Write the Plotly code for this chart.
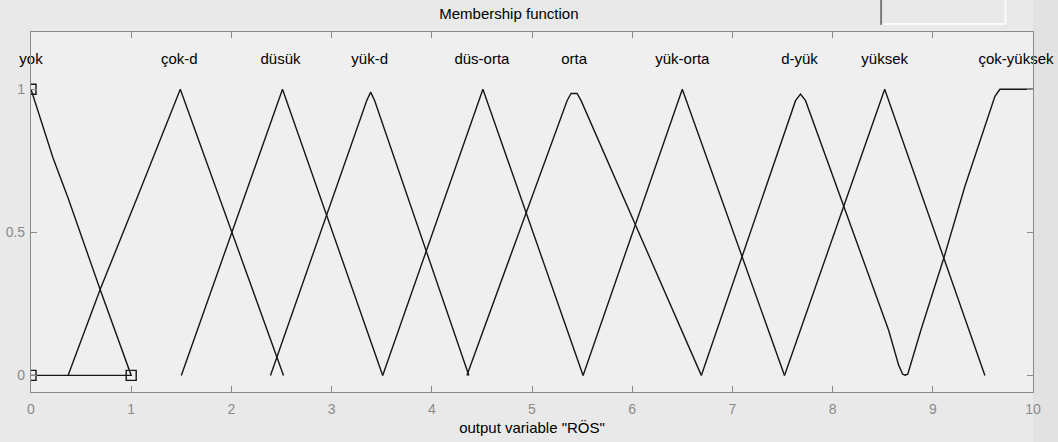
import plotly.graph_objects as go

# Output variable "RÖS": membership function vertices (x, membership)
mf_names = ["yok", "çok-d", "düsük", "yük-d", "düs-orta", "orta",
            "yük-orta", "d-yük", "yüksek", "çok-yüksek"]

yok_x = [0.0, 0.22, 0.37, 0.69, 1.0, 0.0]
yok_y = [1.0, 0.76, 0.62, 0.30, 0.0, 0.0]

cokd_x = [0.37, 0.69, 1.09, 1.49, 2.52]
cokd_y = [0.0, 0.30, 0.648, 1.0, 0.0]

dusuk_x = [1.50, 2.51, 3.51]
dusuk_y = [0.0, 1.0, 0.0]

yukd_x = [2.39, 3.35, 3.39, 3.43, 4.37]
yukd_y = [0.0, 0.96, 0.99, 0.96, 0.0]

dusorta_x = [3.51, 4.51, 5.51]
dusorta_y = [0.0, 1.0, 0.0]

orta_x = [4.35, 5.35, 5.39, 5.45, 5.49, 6.69]
orta_y = [0.0, 0.96, 0.985, 0.985, 0.96, 0.0]

yukorta_x = [5.51, 6.50, 7.52]
yukorta_y = [0.0, 1.0, 0.0]

dyuk_x = [6.69, 7.63, 7.68, 7.73, 8.56, 8.66, 8.70, 8.73]
dyuk_y = [0.0, 0.96, 0.983, 0.96, 0.157, 0.035, 0.004, 0.0]

yuksek_x = [7.52, 8.52, 9.52]
yuksek_y = [0.0, 1.0, 0.0]

cokyuksek_x = [8.72, 8.75, 8.88, 9.11, 9.32, 9.62, 9.67, 10.0]
cokyuksek_y = [0.0, 0.004, 0.157, 0.41, 0.66, 0.975, 1.0, 1.0]

# label anchor positions (centre of each function's top)
label_x = [0.0, 1.48, 2.49, 3.38, 4.50, 5.42, 6.50, 7.67, 8.52, 9.83]
label_y = 1.1

# handles of the selected function "yok"
handle_x = [0.0, 0.0, 1.0]
handle_y = [1.0, 0.0, 0.0]

x_ticks = [0, 1, 2, 3, 4, 5, 6, 7, 8, 9, 10]
y_ticks = [0, 0.5, 1]
y_tick_text = ["0", "0.5", "1"]

curves = [(yok_x, yok_y), (cokd_x, cokd_y), (dusuk_x, dusuk_y),
          (yukd_x, yukd_y), (dusorta_x, dusorta_y), (orta_x, orta_y),
          (yukorta_x, yukorta_y), (dyuk_x, dyuk_y), (yuksek_x, yuksek_y),
          (cokyuksek_x, cokyuksek_y)]

FONT = "Liberation Sans, Arial, sans-serif"
LINE = "#161616"

fig = go.Figure()

for name, (xs, ys) in zip(mf_names, curves):
    fig.add_trace(go.Scatter(x=xs, y=ys, mode="lines", name=name,
                             line=dict(color=LINE, width=1.4),
                             hoverinfo="skip", showlegend=False))

fig.add_trace(go.Scatter(x=handle_x, y=handle_y, mode="markers",
                         marker=dict(symbol="square-open", size=10,
                                     color=LINE, line=dict(width=1.4)),
                         cliponaxis=True, hoverinfo="skip", showlegend=False))

fig.add_trace(go.Scatter(x=label_x, y=[label_y] * len(label_x), mode="text",
                         text=mf_names, textposition="middle center",
                         textfont=dict(family=FONT, size=15, color="#000000"),
                         cliponaxis=False, hoverinfo="skip", showlegend=False))

axis_common = dict(showgrid=False, zeroline=False, showline=True,
                   linecolor="#8a8a8a", linewidth=1.2, mirror="ticks",
                   ticks="inside", ticklen=6, tickcolor="#8a8a8a",
                   automargin=False,
                   tickfont=dict(family=FONT, size=14, color="#8a8a8a"))

fig.update_xaxes(range=[0, 10], tickvals=x_ticks, ticklabelstandoff=4,
                 title=dict(text='output variable "RÖS"', standoff=6,
                            font=dict(family=FONT, size=15, color="#000000")),
                 **axis_common)
fig.update_yaxes(range=[-0.058, 1.2], tickvals=y_ticks, ticktext=y_tick_text,
                 ticklabelstandoff=2, **axis_common)

shapes = [
    # darker strip at the right edge of the window
    dict(type="rect", xref="paper", yref="paper", x0=1.0, x1=1.03,
         y0=-0.2, y1=1.2, fillcolor="#e2e2e2", line=dict(width=0), layer="below"),
    # header widgets next to the title
    dict(type="line", xref="paper", yref="paper", x0=0.8484, x1=0.8484,
         y0=1.02, y1=1.1, line=dict(color="#7a7a7a", width=2)),
    dict(type="line", xref="paper", yref="paper", x0=0.85, x1=0.9725,
         y0=1.022, y1=1.022, line=dict(color="#fbfbfb", width=2)),
    dict(type="line", xref="paper", yref="paper", x0=0.9725, x1=0.9725,
         y0=1.022, y1=1.1, line=dict(color="#fbfbfb", width=2)),
]

fig.update_layout(
    width=1058, height=442,
    margin=dict(l=31, r=25, t=32, b=50),
    paper_bgcolor="#e9e9e9",
    plot_bgcolor="#efefef",
    shapes=shapes,
    title=dict(text="Membership function", x=0.481, xanchor="center",
               y=0.97, yanchor="middle",
               font=dict(family=FONT, size=15, color="#000000")),
)

fig.write_html("out.html")
